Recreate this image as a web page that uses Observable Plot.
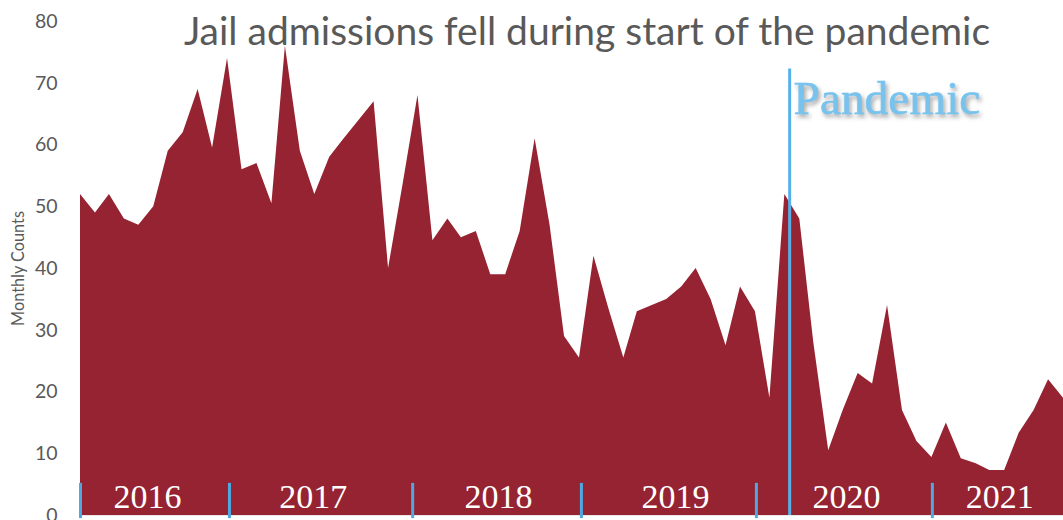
<!DOCTYPE html>
<html><head><meta charset="utf-8">
<script src="https://cdn.jsdelivr.net/npm/d3@7"></script>
<script src="https://cdn.jsdelivr.net/npm/@observablehq/plot@0.6"></script>
<style>
html,body{margin:0;padding:0;background:#fff;}
#chart svg{display:block;}
</style></head><body><div id="chart"></div>
<script>
// ---- data ----
const startMonth = "2016-01-01";
const endMonth = "2021-08-01";
const counts = [
  52, 49, 52, 48, 47, 50, 59, 62, 69, 59.5, 74, 56,
  57, 50.5, 76, 59, 52, 58, 61, 64, 67, 40, 54, 68,
  44.5, 48, 45, 46, 39, 39, 46, 61, 47, 29, 25.5, 42,
  33.5, 25.5, 33, 34, 35, 37, 40, 35, 27.5, 37, 33, 19,
  52, 48, 28, 10.5, 17, 23, 21.3, 34, 17, 12, 9.4, 15,
  9.2, 8.4, 7.3, 7.3, 13.3, 17, 22, 19
];
const yTicks = [0, 10, 20, 30, 40, 50, 60, 70, 80];
const yearLabels = ["2016", "2017", "2018", "2019", "2020", "2021"];
const yearLabelDates = ["2016-05-19", "2017-04-28", "2018-05-17", "2019-05-19", "2020-05-08", "2021-03-22"];
const yearTickDates = ["2016-01-01", "2016-11-05", "2017-11-20", "2018-11-05", "2019-11-03", "2020-11-02"];
const pandemicDate = "2020-01-11";
const pandemicTop = 72.3;
const pandemicLabel = "Pandemic";
const pandemicLabelDate = "2020-01-19";
const pandemicLabelValue = 67.4;
const titleText = "Jail admissions fell during start of the pandemic";
const yLabel = "Monthly Counts";

// ---- tables ----
const months = d3.utcMonth.range(new Date(startMonth), d3.utcMonth.offset(new Date(endMonth), 1));
const data = months.map((d, i) => ({date: d, count: counts[i]}));
const years = yearLabels.map((t, i) => ({label: t, date: new Date(yearLabelDates[i]), y: 0}));
const yearTicks = yearTickDates.map(d => ({date: new Date(d)}));

const plot = Plot.plot({
  width: 1063, height: 520,
  marginLeft: 80, marginRight: 0, marginTop: 21, marginBottom: 5,
  style: {fontFamily: "Lato, 'Open Sans', sans-serif", fontSize: "19.5px", color: "#595959", background: "#fff", overflow: "visible"},
  x: {type: "utc", domain: [new Date(startMonth), new Date(endMonth)], axis: null},
  y: {domain: [0, 80], ticks: yTicks, tickSize: 0, tickPadding: 23, label: null, tickFormat: d => d},
  marks: [
    Plot.areaY(data, {x: "date", y: "count", fill: "#962331", curve: "linear"}),
    Plot.ruleY([0], {stroke: "#e8e8e8", strokeWidth: 1}),
    Plot.ruleX(yearTicks, {x: "date", y1: 5.2, y2: -0.5, stroke: "#4ea9e2", strokeWidth: 3}),
    Plot.ruleX([{date: new Date(pandemicDate)}], {x: "date", y1: pandemicTop, y2: 0, stroke: "#55b0e8", strokeWidth: 3}),
    Plot.text(years, {x: "date", y: "y", text: "label", dy: -18, lineAnchor: "middle", textAnchor: "middle",
      fill: "white", fontFamily: "'Liberation Serif', 'Times New Roman', serif", fontSize: 34}),
    Plot.text([{label: pandemicLabel, date: new Date(pandemicLabelDate), v: pandemicLabelValue}],
      {x: "date", y: "v", text: "label", textAnchor: "start", lineAnchor: "middle",
       fill: "#78c2ee", stroke: "#78c2ee", strokeWidth: 0.6,
       fontFamily: "'Liberation Serif', 'Times New Roman', serif", fontSize: 48}),
    Plot.text([titleText], {frameAnchor: "top", dx: 15, dy: -4, lineAnchor: "top", textAnchor: "middle",
      fill: "#595959", fontSize: 38, fontFamily: "Lato, sans-serif"}),
    Plot.text([yLabel], {frameAnchor: "left", dx: -62, rotate: -90, textAnchor: "middle", lineAnchor: "middle",
      fill: "#595959", fontSize: 15})
  ]
});
document.getElementById("chart").appendChild(plot);

// ---- cosmetic post-processing: shadows & width fitting ----
plot.querySelectorAll("text").forEach(t => {
  const s = t.textContent;
  if (yearLabels.includes(s) && t.getAttribute("fill") === "white") {
    t.style.filter = "drop-shadow(1.5px 2px 1.5px rgba(0,0,0,0.65))";
  } else if (s === pandemicLabel) {
    t.style.filter = "drop-shadow(2px 3px 2px rgba(0,0,0,0.35))";
    const w = t.getComputedTextLength();
    if (w > 0) t.setAttribute("font-size", (48 * 187 / w).toFixed(1));
  } else if (s === titleText) {
    const w = t.getComputedTextLength();
    if (w > 0) t.setAttribute("font-size", (38 * 807 / w).toFixed(1));
  } else if (s === yLabel) {
    const w = t.getComputedTextLength();
    if (w > 0) t.setAttribute("font-size", (15 * 115 / w).toFixed(1));
  }
});
</script></body></html>
